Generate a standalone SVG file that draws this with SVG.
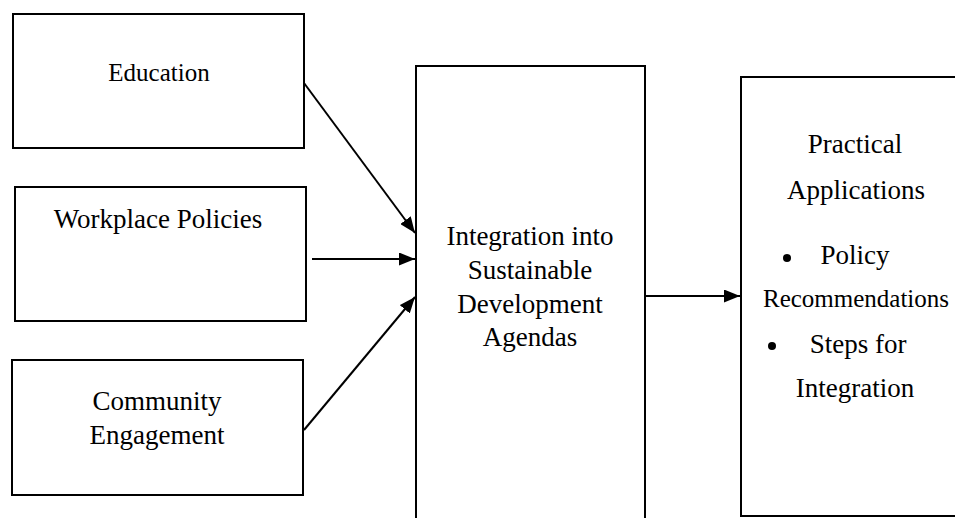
<svg xmlns="http://www.w3.org/2000/svg" width="955" height="518" viewBox="0 0 955 518">
<style>
.box{fill:#fff;stroke:#000;stroke-width:2}
.t{font-family:"Liberation Serif","Times New Roman",serif;font-size:27px;fill:#000;text-anchor:middle}
.c{stroke:#000;stroke-width:2;fill:none;marker-end:url(#ah)}
</style>
<defs>
<marker id="ah" viewBox="0 0 16 13" refX="16" refY="6.5" markerWidth="16" markerHeight="13" markerUnits="userSpaceOnUse" orient="auto">
<path d="M0,0 L16,6.5 L0,13 z" fill="#000"/>
</marker>
</defs>
<rect width="955" height="518" fill="#fff"/>
<g id="education">
<rect class="box" x="13" y="14" width="291" height="134"/>
<text class="t" x="159" y="81" style="font-size:25px">Education</text>
</g>
<g id="workplace">
<rect class="box" x="15" y="187" width="291" height="134"/>
<text class="t" x="158" y="228">Workplace Policies</text>
</g>
<g id="community">
<rect class="box" x="12" y="360" width="291" height="135"/>
<text class="t" x="157" y="410">Community</text>
<text class="t" x="157" y="444">Engagement</text>
</g>
<g id="integration">
<rect class="box" x="416" y="66" width="229" height="470"/>
<text class="t" x="530" y="245">Integration into</text>
<text class="t" x="530" y="279">Sustainable</text>
<text class="t" x="530" y="313">Development</text>
<text class="t" x="530" y="346">Agendas</text>
</g>
<g id="practical">
<rect class="box" x="741" y="77" width="240" height="439"/>
<text class="t" x="855" y="153">Practical</text>
<text class="t" x="856" y="199">Applications</text>
<circle cx="787" cy="258" r="4" fill="#000"/>
<text class="t" x="855" y="264">Policy</text>
<text class="t" x="856" y="307" style="font-size:25px">Recommendations</text>
<circle cx="772" cy="346" r="4" fill="#000"/>
<text class="t" x="858" y="353">Steps for</text>
<text class="t" x="855" y="397">Integration</text>
</g>
<g id="connectors">
<line class="c" x1="304" y1="83" x2="415" y2="233"/>
<line class="c" x1="312" y1="259" x2="415" y2="259"/>
<line class="c" x1="304" y1="430" x2="415" y2="297"/>
<line class="c" x1="645" y1="296" x2="740" y2="296"/>
</g>
</svg>
